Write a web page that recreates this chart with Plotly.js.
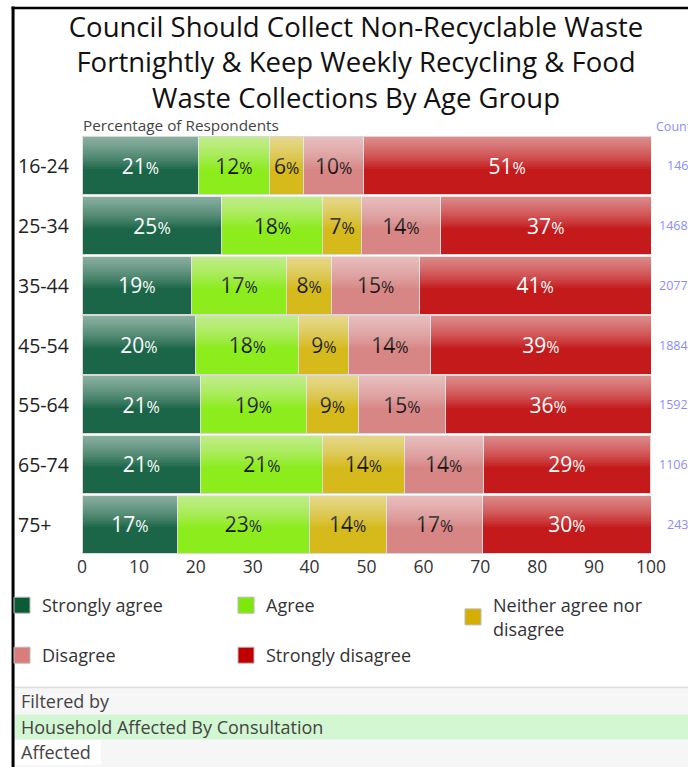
<!DOCTYPE html>
<html>
<head>
<meta charset="utf-8">
<script src="https://cdn.plot.ly/plotly-3.0.1.min.js"></script>
<style>
  html, body { margin: 0; padding: 0; background: #fff; }
  #chart { width: 688px; height: 767px; }
</style>
</head>
<body>
<div id="chart"></div>
<script>
// ---- data ----
const categories = ['16-24', '25-34', '35-44', '45-54', '55-64', '65-74', '75+'];
const stronglyAgree    = [20.5, 24.6, 19.3, 20.0, 20.8, 20.9, 16.8];
const agree            = [12.4, 17.7, 16.6, 18.1, 18.6, 21.4, 23.1];
const neither          = [6.1, 6.8, 8.0, 8.8, 9.2, 14.3, 13.6];
const disagree         = [10.4, 13.9, 15.4, 14.4, 15.2, 13.9, 16.9];
const stronglyDisagree = [50.6, 37.0, 40.7, 38.7, 36.2, 29.4, 29.6];
const counts = [146, 1468, 2077, 1884, 1592, 1106, 243];
const seriesNames = ['Strongly agree', 'Agree', 'Neither agree nor<br>disagree', 'Disagree', 'Strongly disagree'];
const xTicks = [0, 10, 20, 30, 40, 50, 60, 70, 80, 90, 100];

// ---- styles ----
const FONT = '"Open Sans", "Noto Sans", sans-serif';
const barColors = ['#1b6648', '#8cec1c', '#d6b91a', '#d88585', '#c41a1c'];
const legendColors = ['#0b5c36', '#7ee80a', '#d4ae00', '#d87c7c', '#c00000'];
const textColors = ['#ffffff', '#111111', '#111111', '#111111', '#ffffff'];
const BARGAP = 0.025;
const W = 1 - BARGAP;

// plot area geometry (px)
const L = 82, R = 651.5, T = 136, B = 554, WIDTH = 688, HEIGHT = 767;
const px2x = p => (p - L) / (R - L);
const py2y = p => (B - p) / (B - T);

const allSeries = [stronglyAgree, agree, neither, disagree, stronglyDisagree];

const data = [];
allSeries.forEach((vals, s) => {
  data.push({
    type: 'bar', orientation: 'h',
    y: categories, x: vals,
    name: seriesNames[s],
    showlegend: false,
    marker: { color: barColors[s], line: { color: '#d9d9d9', width: 1 } },
    text: vals.map(v => Math.round(v) + '<span style="font-size:16px">%</span>'),
    textposition: 'inside', insidetextanchor: 'middle', textangle: 0,
    constraintext: 'none',
    textfont: { family: FONT, size: 21, color: textColors[s] },
    hoverinfo: 'skip'
  });
});

// glossy highlight: stacked translucent white bands over the top part of each bar
const flatY = [], flatX = [], flatBase = [];
categories.forEach((c, i) => {
  let acc = 0;
  allSeries.forEach(vals => {
    flatY.push(c); flatX.push(vals[i]); flatBase.push(acc);
    acc += vals[i];
  });
});
const NB = 16;
for (let k = 1; k <= NB; k++) {
  data.push({
    type: 'bar', orientation: 'h',
    y: flatY, x: flatX, base: flatBase,
    offset: -W / 2, width: 0.55 * W * k / NB,
    marker: { color: 'rgba(255,255,255,0.043)', line: { width: 0 } },
    textposition: 'none', showlegend: false, hoverinfo: 'skip'
  });
}

// legend entries
const legendIds = ['legend', 'legend2', 'legend3', 'legend4', 'legend5'];
seriesNames.forEach((n, s) => {
  data.push({
    type: 'scatter', mode: 'markers', x: [null], y: [null],
    name: n, legend: legendIds[s], showlegend: true,
    marker: { symbol: 'square', size: 16, color: legendColors[s], line: { color: '#bbbbbb', width: 1 } },
    hoverinfo: 'skip'
  });
});

function legendAt(xPx, topPx) {
  return {
    xref: 'container', yref: 'container',
    x: xPx / WIDTH, y: 1 - topPx / HEIGHT,
    xanchor: 'left', yanchor: 'top',
    bgcolor: 'rgba(0,0,0,0)', borderwidth: 0,
    font: { family: FONT, size: 18, color: '#333' }
  };
}

const annotations = [];
categories.forEach((c, i) => {
  annotations.push({
    xref: 'paper', x: px2x(16), xanchor: 'left',
    yref: 'y', y: c, text: c, showarrow: false,
    font: { family: FONT, size: 19.5, color: '#222' }
  });
  annotations.push({
    xref: 'paper', x: px2x(691), xanchor: 'right',
    yref: 'y', y: c, text: String(counts[i]), showarrow: false,
    font: { family: FONT, size: 12.5, color: '#8c8cff' }
  });
});
annotations.push({
  xref: 'paper', x: 0, xanchor: 'left', yref: 'paper', y: 1, yanchor: 'bottom',
  text: 'Percentage of Respondents', showarrow: false, borderpad: 0,
  font: { family: FONT, size: 15.3, color: '#444' }
});
annotations.push({
  xref: 'paper', x: px2x(694), xanchor: 'right', yref: 'paper', y: 1, yanchor: 'bottom',
  text: 'Count', showarrow: false, borderpad: 0,
  font: { family: FONT, size: 12.5, color: '#8c8cff' }
});
const filterTexts = [['Filtered by', 701], ['Household Affected By Consultation', 727], ['Affected', 752]];
filterTexts.forEach(([t, yp]) => {
  annotations.push({
    xref: 'paper', x: px2x(19), xanchor: 'left', yref: 'paper', y: py2y(yp), yanchor: 'middle',
    text: t, showarrow: false,
    font: { family: FONT, size: 18, color: '#444' }
  });
});

const shapes = [
  { type: 'rect', xref: 'paper', yref: 'paper', layer: 'below',
    x0: px2x(15), x1: px2x(700), y0: py2y(688), y1: py2y(780),
    fillcolor: '#f6f6f6', line: { width: 0 } },
  { type: 'line', xref: 'paper', yref: 'paper', layer: 'below',
    x0: px2x(15), x1: px2x(700), y0: py2y(687.5), y1: py2y(687.5),
    line: { color: '#dddddd', width: 1.5 } },
  { type: 'rect', xref: 'paper', yref: 'paper', layer: 'below',
    x0: px2x(15), x1: px2x(700), y0: py2y(714.5), y1: py2y(739.5),
    fillcolor: '#d3f7d3', line: { width: 0 } },
  { type: 'rect', xref: 'paper', yref: 'paper', layer: 'below',
    x0: px2x(15), x1: px2x(101), y0: py2y(740), y1: py2y(764.5),
    fillcolor: '#ffffff', line: { width: 0 } },
  { type: 'line', xref: 'paper', yref: 'paper', layer: 'above',
    x0: px2x(13), x1: px2x(13), y0: py2y(6.5), y1: py2y(790),
    line: { color: '#000', width: 3 } },
  { type: 'line', xref: 'paper', yref: 'paper', layer: 'above',
    x0: px2x(11.5), x1: px2x(700), y0: py2y(8), y1: py2y(8),
    line: { color: '#000', width: 2.5 } }
];

const layout = {
  width: WIDTH, height: HEIGHT,
  margin: { l: L, r: WIDTH - R, t: T, b: HEIGHT - B, autoexpand: false },
  paper_bgcolor: '#ffffff', plot_bgcolor: '#ffffff',
  font: { family: FONT, color: '#333' },
  title: {
    text: 'Council Should Collect Non-Recyclable Waste<br>Fortnightly & Keep Weekly Recycling & Food<br>Waste Collections By Age Group',
    font: { family: FONT, size: 27.5, color: '#111' },
    xref: 'container', x: 356 / WIDTH, xanchor: 'center',
    yref: 'container', y: 1 - 36.5 / HEIGHT, yanchor: 'top'
  },
  barmode: 'stack', bargap: BARGAP,
  hovermode: false,
  xaxis: {
    range: [0, 100], tickvals: xTicks, ticktext: xTicks.map(String),
    showgrid: false, zeroline: false, showline: false, ticks: '',
    tickfont: { family: FONT, size: 17.5, color: '#333' }
  },
  yaxis: {
    type: 'category', categoryarray: categories, categoryorder: 'array',
    autorange: 'reversed', showticklabels: false,
    showgrid: false, zeroline: false, showline: false, ticks: ''
  },
  legend: legendAt(2, 587),
  legend2: legendAt(226, 587),
  legend3: legendAt(453, 587),
  legend4: legendAt(2, 637),
  legend5: legendAt(226, 637),
  annotations: annotations,
  shapes: shapes
};

Plotly.newPlot('chart', data, layout, { displayModeBar: false, staticPlot: true });
</script>
</body>
</html>
